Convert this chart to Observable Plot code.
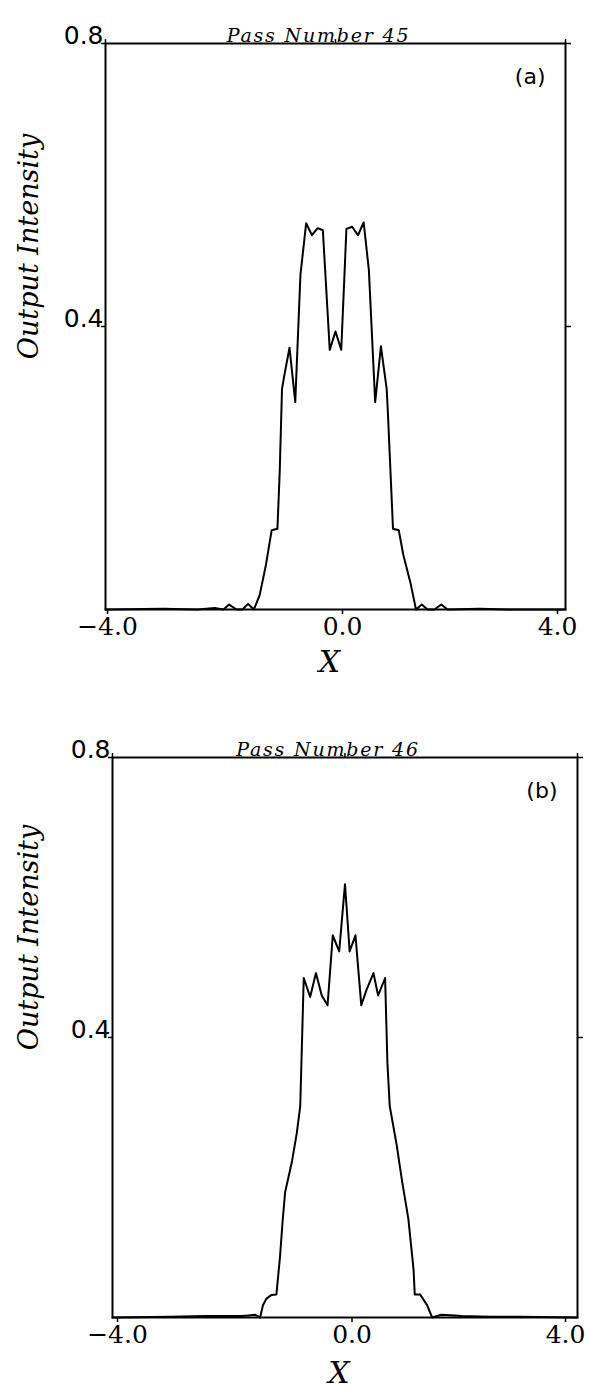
<!DOCTYPE html>
<html><head><meta charset="utf-8">
<script src="https://cdn.jsdelivr.net/npm/d3@7"></script>
<script src="https://cdn.jsdelivr.net/npm/@observablehq/plot@0.6"></script>
<style>
html,body{margin:0;padding:0;background:#fff;}
#chart{position:relative;width:590px;height:1393px;overflow:hidden;}
#chart svg{display:block;}
</style></head><body><div id="chart"></div>
<script>
// Panel (a): Pass Number 45
const xA = [-4.0,-3.0,-2.4,-2.1,-1.95,-1.85,-1.72,-1.62,-1.52,-1.42,-1.32,-1.21,-1.11,-1.01,-0.97,-0.93,-0.89,-0.80,-0.70,-0.61,-0.51,-0.41,-0.31,-0.22,-0.10,0.0,0.10,0.19,0.29,0.39,0.49,0.58,0.69,0.79,0.89,0.91,1.00,1.10,1.18,1.30,1.40,1.50,1.60,1.72,1.84,1.95,2.5,3.0,4.0];
const yA = [0.0,0.001,0.0,0.002,0.0,0.007,0.0,0.0,0.008,0.0,0.020,0.063,0.112,0.114,0.195,0.312,0.331,0.370,0.293,0.473,0.546,0.529,0.539,0.536,0.367,0.393,0.367,0.538,0.541,0.529,0.547,0.480,0.293,0.372,0.312,0.280,0.114,0.112,0.077,0.039,0.0,0.007,0.0,0.0,0.007,0.0,0.001,0.0,0.0];
// Panel (b): Pass Number 46
const xB = [-4.0,-3.0,-2.4,-2.0,-1.78,-1.66,-1.55,-1.46,-1.41,-1.35,-1.27,-1.18,-1.12,-1.07,-1.03,-0.91,-0.83,-0.77,-0.75,-0.71,-0.60,-0.50,-0.40,-0.30,-0.21,-0.10,0.0,0.08,0.18,0.28,0.37,0.49,0.57,0.69,0.73,0.77,0.89,0.98,1.09,1.18,1.20,1.29,1.41,1.50,1.66,1.89,2.0,2.5,3.0,4.0];
const yB = [0.0,0.001,0.002,0.002,0.002,0.003,0.004,0.0,0.018,0.027,0.032,0.033,0.085,0.141,0.179,0.224,0.263,0.302,0.363,0.485,0.458,0.492,0.460,0.446,0.546,0.523,0.619,0.523,0.546,0.446,0.468,0.492,0.460,0.485,0.363,0.302,0.246,0.196,0.141,0.068,0.033,0.033,0.018,0.0,0.004,0.003,0.002,0.001,0.001,0.0];

const xTicks = [-4, 0, 4];
const yTicks = [0.4, 0.8];
const titles = ["Pass Number 45", "Pass Number 46"];
const tags = ["(a)", "(b)"];
const xLabel = "X";
const yLabel = "Output Intensity";

const fmtX = d => (d < 0 ? "\u2212" + (-d).toFixed(1) : d.toFixed(1));
const fmtY = d => d.toFixed(1);
const serif = "DejaVu Serif";
const sans = "DejaVu Sans";

function panel(xs, ys, title, tag, g) {
  const data = xs.map((x, i) => ({x, y: ys[i]}));
  const tickOpts = {tickSize: 5, tickPadding: 3, tickFormat: fmtX, fontSize: 25, fontFamily: serif, label: null, strokeWidth: 1.5};
  const svg = Plot.plot({
    width: 590, height: g.height,
    marginTop: g.mt, marginBottom: g.mb, marginLeft: g.ml, marginRight: g.mr,
    style: {background: "white", color: "black", overflow: "visible"},
    x: {domain: [-4, 4]},
    y: {domain: [0, 0.8]},
    marks: [
      Plot.frame({stroke: "black", strokeWidth: 2}),
      Plot.line(data, {x: "x", y: "y", stroke: "black", strokeWidth: 2}),
      ...xTicks.map((t, i) => Plot.axisX({...tickOpts, ticks: [t], dx: g.tdx[i]})),
      Plot.axisX({anchor: "top", ticks: xTicks, tickSize: 5, tickFormat: () => "", label: null, strokeWidth: 1.5}),
      Plot.axisY({ticks: yTicks, tickSize: 0, tickPadding: 2, dy: -8, tickFormat: fmtY, fontSize: 25, fontFamily: sans, label: null}),
      Plot.axisY({ticks: yTicks, tickSize: 4, tickFormat: () => "", label: null, strokeWidth: 1.5}),
      Plot.axisY({anchor: "right", ticks: yTicks, tickSize: 5, tickFormat: () => "", label: null, strokeWidth: 1.5}),
      Plot.text([title], {frameAnchor: "top", dx: -17, dy: -15, fontFamily: serif, fontStyle: "italic", fontSize: 19, fill: "black"}),
      Plot.text([tag], {frameAnchor: "top-right", dx: g.tagdx, dy: 25, textAnchor: "end", fontSize: 22, fontFamily: sans, fill: "black"}),
      Plot.text([yLabel], {frameAnchor: "left", textAnchor: "middle", dx: g.ylx, dy: g.yly, rotate: -90, fontFamily: serif, fontStyle: "italic", fontSize: 27, fill: "black"}),
      Plot.text([xLabel], {frameAnchor: "bottom", dx: -6, dy: g.xly, fontFamily: serif, fontStyle: "italic", fontSize: 30, fill: "black"})
    ]
  });
  svg.querySelectorAll("text").forEach(t => {
    if (t.textContent === title) t.style.letterSpacing = "1.8px";
  });
  return svg;
}

const root = document.getElementById("chart");
root.appendChild(panel(xA, yA, titles[0], tags[0], {height: 700, mt: 43, mb: 91, ml: 105, mr: 25, ylx: -76, yly: -80, xly: 62, tagdx: -20, tdx: [2, 7, -8]}));
root.appendChild(panel(xB, yB, titles[1], tags[1], {height: 693, mt: 57, mb: 76, ml: 112, mr: 13, ylx: -83, yly: -100, xly: 65, tagdx: -20, tdx: [5, 7, -12]}));
</script>
</body></html>
